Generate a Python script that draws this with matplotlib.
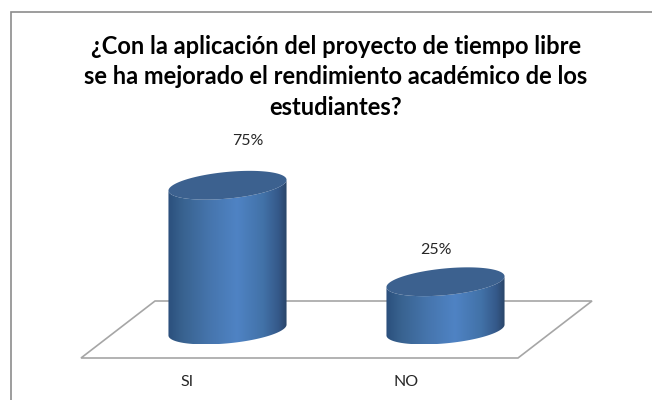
import numpy as np
import matplotlib
matplotlib.use('Agg')
import matplotlib.pyplot as plt
from matplotlib.colors import LinearSegmentedColormap
from matplotlib.patches import Polygon, Rectangle

title = "¿Con la aplicación del proyecto de tiempo libre\nse ha mejorado el rendimiento académico de los\nestudiantes?"
categories = ["SI", "NO"]
values = [75, 25]

plt.rcParams['font.family'] = ['Lato', 'DejaVu Sans']

# scale of the plot, pixels per category and per percent
PX_X = 218.0
PX_Y = 1.93
X0 = 227.5   # pixel of first category
Y0 = 330.0   # pixel of value 0
W, H = 652, 400

# tilted ellipse of the cylinder ends, in pixels
A = 59.3
B = 13.3
TILT = np.radians(5.5)

# label offsets from the category centre, in pixels
value_dx = [20, -10]
value_dy = [30, 17.5]
cat_dx = [-40, -39]

fig = plt.figure(figsize=(W / 100, H / 100), dpi=100)
ax = fig.add_axes([0, 0, 1, 1])
ax.axis('off')
xlim = ((0 - X0) / PX_X, (W - X0) / PX_X)
ylim = ((Y0 - H) / PX_Y, Y0 / PX_Y)

def px(x, y):
	return (x - X0) / PX_X, (Y0 - y) / PX_Y

side = LinearSegmentedColormap.from_list('side', [(0, '#2b4f7c'), (0.12, '#38628f'), (0.35, '#4675ad'),
	(0.58, '#4f83c4'), (0.8, '#4272a8'), (0.93, '#35598a'), (1, '#2a4568')])

def end_points(t, xc, v):
	dx = A * np.cos(t) * np.cos(TILT) + B * np.sin(t) * np.sin(TILT)
	dy = -A * np.cos(t) * np.sin(TILT) + B * np.sin(t) * np.cos(TILT)
	return xc + dx / PX_X, v - dy / PX_Y

# frame and floor
ax.add_patch(Rectangle(px(10.5, 420), 800 / PX_X, 407.5 / PX_Y, fc='white', ec='#8c8c8c', lw=1.2, zorder=0))
floor = [px(81, 358), px(155, 301), px(592, 301), px(518, 358)]
ax.add_patch(Polygon(floor, closed=True, fc='white', ec='#a6a6a6', lw=1.2, zorder=1))

t = np.linspace(0, 2 * np.pi, 361)
t_right = np.arctan2(B * np.sin(TILT), A * np.cos(TILT))
ts = np.linspace(t_right, t_right + np.pi, 181)
for i, (cat, val) in enumerate(zip(categories, values)):
	xb, yb = end_points(t, i, 0)
	xt, yt = end_points(t, i, val)
	# lower half of bottom ellipse, then back over the top ellipse
	xl, yl = end_points(ts, i, 0)
	xu, yu = end_points(ts[::-1], i, val)
	verts = np.column_stack([np.r_[xl, xu], np.r_[yl, yu]])
	body = Polygon(verts, closed=True, fc='none', ec='none')
	ax.add_patch(body)
	grad = np.linspace(0, 1, 256).reshape(1, -1)
	im = ax.imshow(grad, cmap=side, extent=(xb.min(), xb.max(), yb.min(), yt.max()),
		aspect='auto', zorder=2, interpolation='bilinear')
	im.set_clip_path(body)
	ax.fill(xt, yt, color='#3c618f', lw=0, zorder=3)
	ax.text(i + value_dx[i] / PX_X, yt.max() + value_dy[i] / PX_Y, f"{val}%", ha='center', va='center',
		fontsize=11.5, color='#262626', zorder=4)
	ax.text(i + cat_dx[i] / PX_X, px(0, 382)[1], cat, ha='center', va='center', fontsize=11.5, color='#262626', zorder=4)

ax.set_xlim(xlim)
ax.set_ylim(ylim)

ax.text(*px(336, 77), title, ha='center', va='center', fontsize=17, fontweight='bold',
	color='black', linespacing=1.42, zorder=4)

plt.savefig('out.png', dpi=100)
